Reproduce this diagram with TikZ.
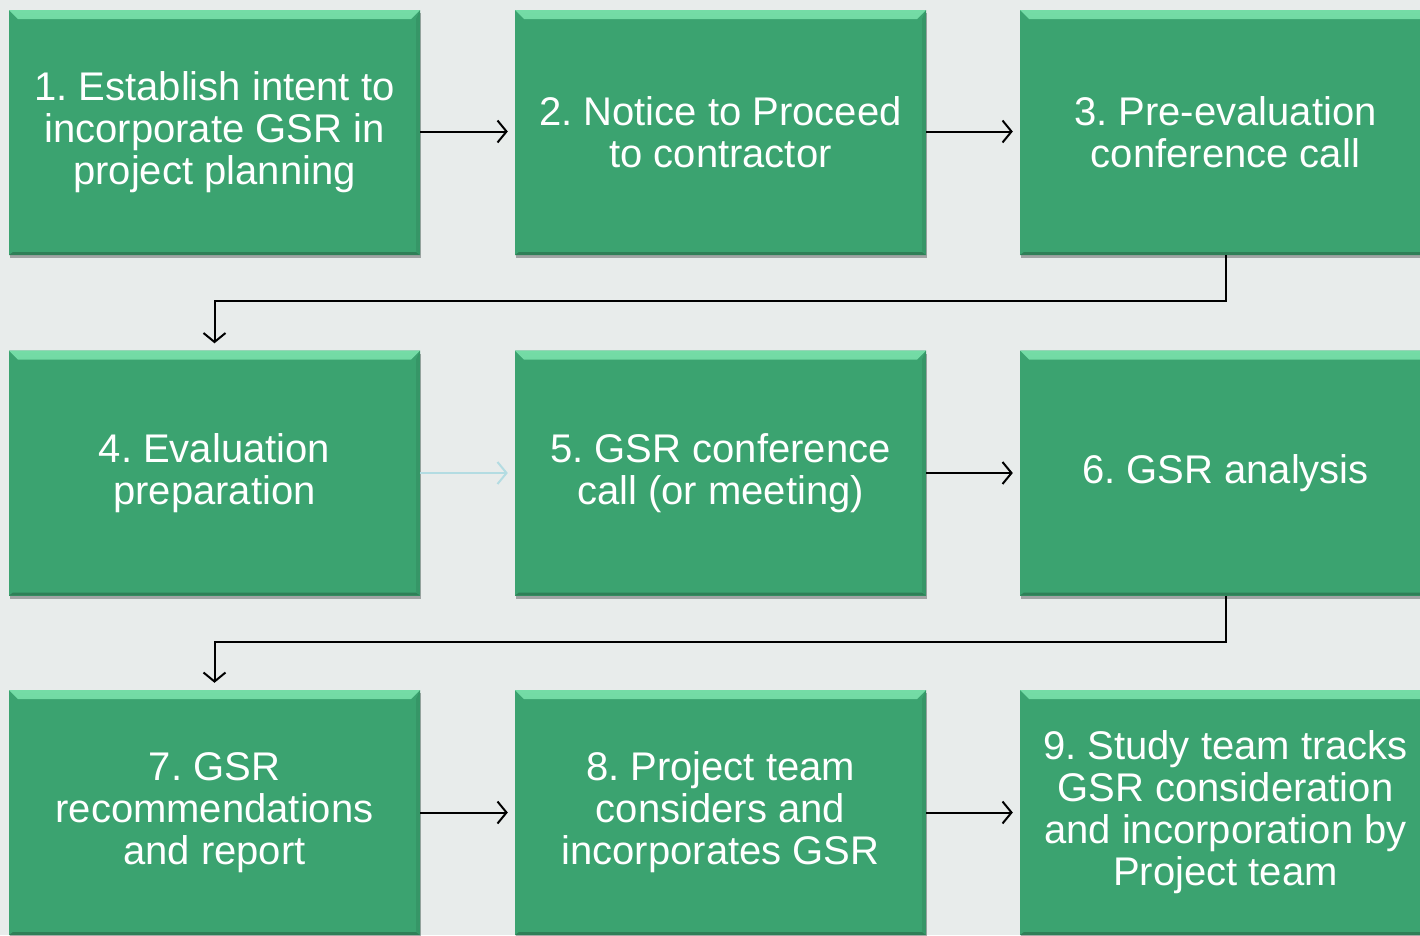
\documentclass[tikz,border=0pt]{standalone}
\usepackage{fontspec}
\setmainfont{Liberation Sans}
\frenchspacing
\usetikzlibrary{arrows.meta,shadows,calc}
\definecolor{bg}{HTML}{E8ECEB}
\definecolor{boxgreen}{HTML}{3BA370}
\definecolor{bevlight}{HTML}{74DCA6}
\definecolor{bevdark}{HTML}{2F7F57}
\definecolor{faintblue}{HTML}{B3DCE2}
\tikzset{
  stepbox/.style={fill=boxgreen, draw=none, minimum width=411pt, minimum height=245pt,
    inner sep=0pt, align=center, text=white,
    font=\fontsize{40}{42}\selectfont,
    drop shadow={shadow xshift=1pt, shadow yshift=-3pt, opacity=0.3, fill=black},
    path picture={
      \fill[top color=bevlight, bottom color=boxgreen]
        (path picture bounding box.north west) -- (path picture bounding box.north east)
        -- ([xshift=-9pt,yshift=-9pt]path picture bounding box.north east)
        -- ([xshift=9pt,yshift=-9pt]path picture bounding box.north west) -- cycle;
      \fill[boxgreen!92!black]
        (path picture bounding box.north east) -- (path picture bounding box.south east)
        -- ([xshift=-4pt,yshift=4pt]path picture bounding box.south east)
        -- ([xshift=-4pt,yshift=-9pt]path picture bounding box.north east) -- cycle;
      \fill[bevdark]
        (path picture bounding box.south west) -- (path picture bounding box.south east)
        -- ([xshift=-4pt,yshift=3pt]path picture bounding box.south east)
        -- ([xshift=4pt,yshift=3pt]path picture bounding box.south west) -- cycle;
    }},
  arr/.style={draw=black, line width=2pt, -{Straight Barb[length=9pt,width=22pt,line width=2pt]}, shorten >=7pt},
}
\begin{document}
\begin{tikzpicture}[x=1pt,y=-1pt]
\fill[bg] (0,0) rectangle (1420,935);
\useasboundingbox (0,0) rectangle (1420,935);
\clip (0,0) rectangle (1420,935);

\node[stepbox] (b1) at (214.5,132.5) {1. Establish intent to\\incorporate GSR in\\project planning};
\node[stepbox] (b2) at (720.5,132.5) {2. Notice to Proceed\\to contractor};
\node[stepbox] (b3) at (1225.5,132.5) {3. Pre-evaluation\\conference call};
\node[stepbox] (b4) at (214.5,473) {4. Evaluation\\preparation};
\node[stepbox] (b5) at (720.5,473) {5. GSR conference\\call (or meeting)};
\node[stepbox] (b6) at (1225.5,473) {6. GSR analysis};
\node[stepbox] (b7) at (214.5,812.5) {7. GSR\\recommendations\\and report};
\node[stepbox] (b8) at (720.5,812.5) {8. Project team\\considers and\\incorporates GSR};
\node[stepbox] (b9) at (1225.5,812.5) {9. Study team tracks\\GSR consideration\\and incorporation by\\Project team};

\draw[arr] ([yshift=1pt]b1.east) -- ([yshift=1pt]b2.west);
\draw[arr] ([yshift=1pt]b2.east) -- ([yshift=1pt]b3.west);
\draw[arr] (b3.south) -- ++(0,46) -| (b4.north);
\draw[arr, draw=faintblue] (b4.east) -- (b5.west);
\draw[arr] (b5.east) -- (b6.west);
\draw[arr] (b6.south) -- ++(0,46) -| (b7.north);
\draw[arr] (b7.east) -- (b8.west);
\draw[arr] (b8.east) -- (b9.west);
\end{tikzpicture}
\end{document}
